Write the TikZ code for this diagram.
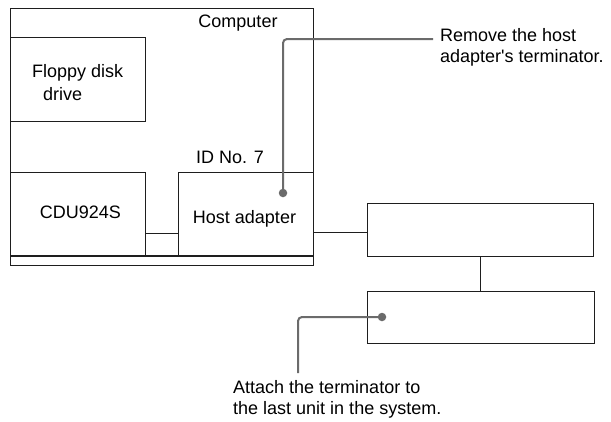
\documentclass[tikz,border=0pt]{standalone}
\usepackage{fontspec}
\setmainfont{Liberation Sans}
\definecolor{boxcol}{HTML}{1E1E1E}
\definecolor{leadcol}{HTML}{6B6B6B}
\tikzset{
 unit/.style={draw=boxcol, line width=1.1pt, rectangle, inner sep=0pt, anchor=north west},
 lbl/.style={font=\fontsize{18}{21}\selectfont, inner sep=0pt, text=black},
 leader/.style={draw=leadcol, line width=2pt, rounded corners=4pt},
 wire/.style={draw=boxcol, line width=1.1pt},
 dotmark/.style={circle, fill=leadcol, inner sep=0pt, minimum size=8.5pt}
}
\begin{document}
\begin{tikzpicture}[x=1pt,y=-1pt]
\useasboundingbox (0,0) rectangle (611,421);
% boxes
\node[unit, minimum width=303pt, minimum height=257pt] (comp) at (10,8) {};
\node[unit, minimum width=135pt, minimum height=84pt] (fdd) at (10,37) {};
\node[unit, minimum width=135pt, minimum height=84pt] (cdu) at (10,172) {};
\node[unit, minimum width=135pt, minimum height=84pt] (host) at (178,172) {};
\node[unit, minimum width=226pt, minimum height=53pt] (unitA) at (367,203) {};
\node[unit, minimum width=227pt, minimum height=52pt] (unitB) at (367,291) {};
\draw[wire] (comp.west |- 0,256) -- (comp.east |- 0,256);
% texts
\node[lbl, anchor=base] (tcomp) at (238,27) {Computer};
\node[lbl, anchor=base] (tid) at (230,163) {ID No. 7};
\node[lbl, anchor=base west, align=left, font=\fontsize{18}{23}\selectfont] (tfdd) at (32,100) {Floppy disk\\\hspace*{11pt}drive};
\node[lbl, anchor=base] (tcdu) at (80.5,218) {CDU924S};
\node[lbl, anchor=base] (thost) at (244.5,223) {Host adapter};
\node[lbl, anchor=base west, align=left] (trem) at (440,62) {Remove the host\\adapter\textquotesingle s terminator.};
\node[lbl, anchor=base west, align=left] (tatt) at (233,414) {Attach the terminator to\\the last unit in the system.};
% wires
\coordinate (cw) at ([yshift=-19pt]cdu.east);
\coordinate (hw) at ([yshift=-18pt]host.east);
\draw[wire] (cw) -- (cw -| host.west);
\draw[wire] (hw) -- (hw -| unitA.west);
\draw[wire] (unitA.south) -- (unitA.south |- unitB.north);
% leaders
\node[dotmark] (d1) at (283,193) {};
\node[dotmark] (d2) at (382,317) {};
\coordinate (r1) at (433,39);
\coordinate (a1) at (298,373);
\draw[leader] (d1.center) |- (r1);
\draw[leader] (d2.center) -| (a1);
\end{tikzpicture}
\end{document}
